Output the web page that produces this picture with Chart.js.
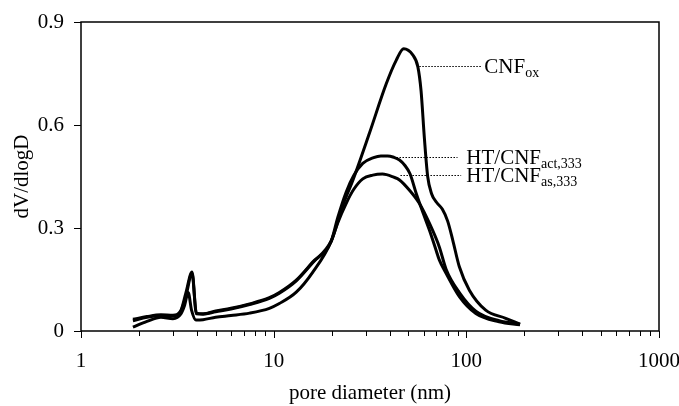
<!DOCTYPE html>
<html>
<head>
  <meta charset="utf-8" />
  <title>Pore size distribution</title>
  <script src="https://cdn.jsdelivr.net/npm/chart.js"></script>
  <style>
    html, body { margin: 0; padding: 0; background: #fff; }
  </style>
</head>
<body>
  <canvas id="poreChart" width="679" height="406"></canvas>

  <script>
    // pore diameter (nm) / dV/dlogD for each sample
    const oxDiam = [1.86, 2.2, 2.6, 3.0, 3.3, 3.45, 3.6, 3.75, 3.95, 4.3, 5.0, 6.0, 7.5, 9.5, 10.7, 13.1, 15.9, 19.9, 23, 25.8, 31.4, 38.4, 43.3, 47.3, 52.7, 56, 58.2, 60.6, 63, 66, 70, 75, 80, 85, 92, 103.7, 126, 160, 190];
    const oxVal  = [0.011, 0.028, 0.040, 0.036, 0.050, 0.075, 0.112, 0.060, 0.032, 0.033, 0.040, 0.045, 0.052, 0.066, 0.080, 0.113, 0.170, 0.262, 0.37, 0.44, 0.576, 0.72, 0.789, 0.822, 0.804, 0.77, 0.70, 0.56, 0.45, 0.40, 0.375, 0.355, 0.32, 0.265, 0.187, 0.119, 0.061, 0.037, 0.020];

    const actDiam = [1.86, 2.2, 2.6, 3.0, 3.3, 3.5, 3.77, 3.97, 4.3, 5.0, 6.0, 7.5, 9.5, 10.7, 13.1, 15.9, 19.9, 21.5, 23.8, 26, 29, 33, 36, 39, 42, 45, 48, 51, 55, 60, 64.3, 69.6, 72.4, 78.5, 92, 112, 148, 190];
    const actVal  = [0.034, 0.042, 0.047, 0.046, 0.060, 0.110, 0.172, 0.052, 0.050, 0.058, 0.066, 0.079, 0.097, 0.112, 0.148, 0.200, 0.262, 0.33, 0.405, 0.452, 0.488, 0.505, 0.510, 0.510, 0.506, 0.498, 0.482, 0.458, 0.40, 0.34, 0.294, 0.236, 0.207, 0.168, 0.100, 0.051, 0.027, 0.018];

    const asDiam = [1.86, 2.2, 2.6, 3.0, 3.3, 3.5, 3.77, 3.97, 4.3, 5.0, 6.0, 7.5, 9.5, 10.7, 13.1, 15.9, 19.9, 21.5, 23.8, 26, 29, 32.7, 36.7, 42, 45, 50.7, 57, 64.3, 72.4, 78.5, 92, 112, 148, 190];
    const asVal  = [0.030, 0.040, 0.045, 0.044, 0.058, 0.100, 0.168, 0.050, 0.049, 0.056, 0.064, 0.077, 0.095, 0.110, 0.146, 0.198, 0.262, 0.315, 0.372, 0.412, 0.443, 0.454, 0.457, 0.448, 0.44, 0.41, 0.372, 0.314, 0.245, 0.180, 0.112, 0.058, 0.030, 0.020];

    // axis ticks
    const xMajor = [1, 10, 100, 1000];
    const yTicks = [0, 0.3, 0.6, 0.9];

    // sample labels: leader line from (fromD, fromV) to toD, text starts at textD
    const labelMain = ['CNF', 'HT/CNF', 'HT/CNF'];
    const labelSub  = ['ox', 'act,333', 'as,333'];
    const leaderFromD = [57, 43.4, 45.5];
    const leaderV     = [0.773, 0.507, 0.454];
    const leaderToD   = [119, 90, 94];
    const labelTextD  = [124, 100, 100];

    const serif = '"Liberation Serif", "Times New Roman", serif';

    function toPoints(xs, ys) {
      return xs.map((d, i) => ({ x: d, y: ys[i] }));
    }

    function lineSet(name, xs, ys) {
      return {
        label: name,
        data: toPoints(xs, ys),
        borderColor: '#000',
        borderWidth: 3,
        pointRadius: 0,
        fill: false,
        cubicInterpolationMode: 'monotone'
      };
    }

    // frame, tick marks, leader lines and sample labels
    const decorations = {
      id: 'decorations',
      afterDraw(chart) {
        const { ctx, chartArea: a, scales: { x, y } } = chart;
        ctx.save();

        ctx.strokeStyle = '#000';
        ctx.lineWidth = 1.5;
        ctx.strokeRect(a.left, a.top, a.right - a.left, a.bottom - a.top);

        ctx.lineWidth = 1;
        ctx.beginPath();
        x.ticks.forEach(t => {
          const px = Math.round(x.getPixelForValue(t.value)) + 0.5;
          const major = xMajor.includes(t.value);
          ctx.moveTo(px, a.bottom);
          ctx.lineTo(px, a.bottom + (major ? 7 : 5));
        });
        y.ticks.forEach(t => {
          const py = Math.round(y.getPixelForValue(t.value)) + 0.5;
          ctx.moveTo(a.left, py);
          ctx.lineTo(a.left - 7, py);
        });
        ctx.stroke();

        ctx.setLineDash([1.5, 1.5]);
        ctx.lineWidth = 1;
        ctx.beginPath();
        labelMain.forEach((_, i) => {
          const py = Math.round(y.getPixelForValue(leaderV[i])) + 0.5;
          ctx.moveTo(x.getPixelForValue(leaderFromD[i]), py);
          ctx.lineTo(x.getPixelForValue(leaderToD[i]), py);
        });
        ctx.stroke();
        ctx.setLineDash([]);

        ctx.fillStyle = '#000';
        ctx.textBaseline = 'alphabetic';
        labelMain.forEach((txt, i) => {
          const px = x.getPixelForValue(labelTextD[i]);
          const base = y.getPixelForValue(leaderV[i]) + 7;
          ctx.font = '21px ' + serif;
          ctx.fillText(txt, px, base);
          const w = ctx.measureText(txt).width;
          ctx.font = '14px ' + serif;
          ctx.fillText(labelSub[i], px + w, base + 4);
        });

        ctx.restore();
      }
    };

    const ctx = document.getElementById('poreChart').getContext('2d');
    const poreChart = new Chart(ctx, {
      type: 'line',
      data: {
        datasets: [
          lineSet('CNFox', oxDiam, oxVal),
          lineSet('HT/CNFact,333', actDiam, actVal),
          lineSet('HT/CNFas,333', asDiam, asVal)
        ]
      },
      options: {
        responsive: false,
        animation: false,
        layout: { padding: { top: 22, right: 20, left: 0, bottom: 0 } },
        plugins: {
          legend: { display: false },
          tooltip: { enabled: false }
        },
        scales: {
          x: {
            type: 'logarithmic',
            min: 1,
            max: 1000,
            afterFit(scale) {
              scale.height = 75;
              scale.paddingLeft = 0;
              scale.paddingRight = 0;
            },
            afterBuildTicks(scale) {
              // 1..9 in every decade
              const list = [];
              xMajor.forEach((m, i) => {
                if (i === xMajor.length - 1) { list.push(m); return; }
                for (let k = 1; k < 10; k++) list.push(k * m);
              });
              scale.ticks = list.map(v => ({ value: v }));
            },
            grid: { display: false },
            border: { display: false },
            ticks: {
              autoSkip: false,
              maxRotation: 0,
              padding: 10,
              color: '#000',
              font: { family: serif, size: 21 },
              callback: v => (xMajor.includes(v) ? String(v) : '')
            },
            title: {
              display: true,
              text: 'pore diameter (nm)',
              color: '#000',
              font: { family: serif, size: 21 },
              padding: { top: 0, bottom: 0 }
            }
          },
          y: {
            min: 0,
            max: 0.9,
            afterFit(scale) { scale.width = 81; },
            afterBuildTicks(scale) {
              scale.ticks = yTicks.map(v => ({ value: v }));
            },
            grid: { display: false },
            border: { display: false },
            ticks: {
              padding: 9,
              color: '#000',
              font: { family: serif, size: 21 },
              callback: v => String(v)
            },
            title: {
              display: true,
              text: 'dV/dlogD',
              color: '#000',
              font: { family: serif, size: 21 },
              padding: { top: 10, bottom: 0 }
            }
          }
        }
      },
      plugins: [decorations]
    });
  </script>
</body>
</html>
